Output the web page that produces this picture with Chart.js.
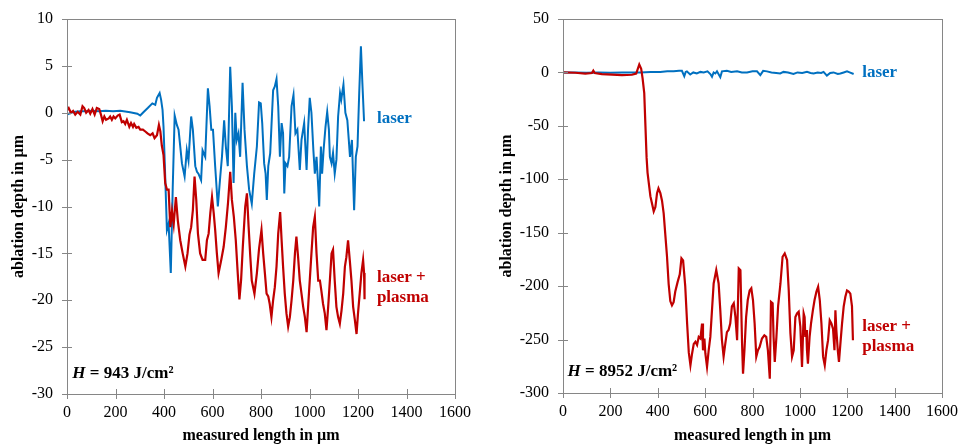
<!DOCTYPE html>
<html lang="en">
<head>
  <meta charset="UTF-8">
  <title>ablation depth profiles</title>
  <script src="https://cdn.jsdelivr.net/npm/chart.js"></script>
  <style>
    body { margin: 0; background: #fff; }
    .panel { position: absolute; top: 0; width: 480px; height: 445px; }
    #p1 { left: 0; }
    #p2 { left: 480px; }
  </style>
</head>
<body>
  <div class="panel" id="p1"><canvas id="c1" width="480" height="445"></canvas></div>
  <div class="panel" id="p2"><canvas id="c2" width="480" height="445"></canvas></div>
  <script>
    // --- data (x in µm, depth in µm) ---
    // H = 943 J/cm², laser only
    const laserX943 = [0, 16, 34, 55, 80, 105, 130, 160, 190, 220, 260, 290, 302, 313, 333, 352, 364, 371, 382, 388, 394, 398, 404, 412, 419, 428, 436, 444, 453, 460, 474, 485, 494, 501, 512, 519, 529, 536, 542, 553, 559, 570, 581, 588, 595, 602, 611, 622, 632, 639, 648, 655, 663, 673, 680, 687, 694, 700, 707, 714, 724, 732, 742, 751, 762, 772, 783, 792, 799, 805, 813, 819, 824, 830, 838, 843, 850, 857, 864, 871, 878, 885, 891, 896, 901, 909, 916, 926, 934, 942, 950, 960, 967, 978, 988, 994, 1001, 1008, 1016, 1022, 1029, 1036, 1040, 1047, 1052, 1058, 1066, 1073, 1080, 1084, 1091, 1097, 1104, 1111, 1118, 1126, 1131, 1140, 1148, 1156, 1162, 1167, 1175, 1184, 1191, 1198, 1205, 1212, 1218, 1225];
    const laserY943 = [-0.2, 0, 0.1, 0.15, 0.15, 0.2, 0.15, 0.2, 0.15, 0.2, 0.05, -0.1, -0.3, 0, 0.5, 1.0, 0.85, 1.6, 2.1, 1.4, 0.3, -1.5, -6, -12.5, -11.8, -17.1, -8, -0.3, -1.3, -1.8, -5.4, -6.8, -4.0, -5.1, -0.4, -1.8, -5.7, -6.3, -6.5, -7.2, -4.0, -4.7, 2.6, 0.7, -1.8, -1.8, -5.7, -10.0, -6.8, -4.7, -0.8, -3.6, -5.7, 4.9, 0.7, -7.5, 0, -2.9, -2.2, -4.7, 3.2, -1.8, -5.7, -8.2, -9.7, -6.5, -3.6, 1.1, 1.0, -1.1, -5.4, -6.5, -9.3, -5.7, -4.3, -1.5, 2.4, 2.8, 3.6, 0.7, -4.7, -1.1, -2.2, -8.6, -5.4, -5.7, -4.7, 0.7, 1.9, -2.2, -1.8, -6.1, -2.9, -1.1, -6.1, -1.8, 1.6, 0, -4.0, -6.5, -4.7, -7.9, -10.0, -3.6, -6.5, -4.0, -1.5, 0.1, -1.8, -4.7, -5.4, -4.3, -6.5, -5.0, -0.4, 2.1, 1.4, 3.0, 0, -0.8, -2.9, -4.7, -2.9, -10.4, -4.7, -3.6, 2.1, 7.1, 3.2, -0.9];
    // H = 943 J/cm², laser + plasma
    const plasmaX943 = [0, 7, 16, 25, 34, 44, 55, 64, 71, 79, 89, 96, 105, 114, 123, 133, 140, 147, 154, 161, 172, 178, 185, 192, 199, 209, 217, 226, 233, 240, 247, 257, 264, 272, 277, 286, 295, 302, 313, 323, 332, 343, 353, 361, 371, 379, 385, 391, 398, 405, 412, 419, 426, 433, 440, 449, 457, 467, 477, 488, 497, 505, 512, 519, 526, 533, 540, 549, 559, 570, 577, 584, 591, 598, 605, 611, 618, 625, 636, 646, 655, 664, 673, 680, 688, 696, 704, 711, 718, 725, 735, 742, 749, 756, 762, 773, 783, 792, 802, 809, 816, 823, 830, 836, 843, 850, 857, 864, 871, 879, 885, 891, 898, 905, 912, 919, 926, 933, 940, 946, 953, 960, 967, 974, 981, 988, 995, 1001, 1008, 1015, 1022, 1029, 1036, 1043, 1049, 1056, 1063, 1070, 1077, 1084, 1091, 1097, 1104, 1111, 1118, 1125, 1132, 1139, 1146, 1152, 1159, 1166, 1173, 1180, 1187, 1194, 1200, 1207, 1214, 1221, 1225, 1227];
    const plasmaY943 = [0.3, 0.5, 0, 0.2, -0.2, 0.1, -0.2, 0.7, 0.5, 0, 0.3, -0.1, 0.4, -0.2, 0.5, 0.4, -0.2, -0.9, -0.4, -0.75, -0.6, -0.4, -0.75, -0.4, -0.6, -0.3, -0.2, -1.0, -0.9, -1.2, -0.75, -1.5, -1.1, -1.5, -1.2, -1.6, -1.5, -1.8, -1.8, -2.0, -2.2, -2.4, -2.2, -2.7, -2.4, -1.3, -2.0, -3.5, -4.5, -7.5, -8.2, -8.2, -12.2, -10.5, -11.9, -9.0, -11.5, -13.6, -15.0, -16.4, -15.0, -13.0, -12.2, -10.4, -6.8, -9.3, -12.9, -15.0, -15.7, -15.7, -13.6, -12.9, -10.7, -9.0, -10.7, -12.5, -15.0, -17.1, -15.7, -14.3, -12.2, -9.6, -6.3, -9.3, -11.1, -13.6, -17.1, -19.9, -17.8, -14.3, -10.0, -8.6, -12.2, -15.4, -17.9, -19.3, -17.1, -14.5, -12.5, -15.0, -17.1, -19.3, -19.6, -20.4, -21.8, -20.0, -18.6, -16.4, -12.9, -10.6, -13.6, -16.4, -19.3, -21.4, -22.8, -21.8, -20.0, -17.9, -15.0, -13.2, -15.4, -17.9, -19.3, -20.7, -21.8, -23.4, -20.4, -17.9, -15.0, -12.2, -11.1, -15.0, -17.9, -17.9, -19.0, -20.4, -21.4, -23.2, -20.7, -17.9, -15.0, -14.6, -17.9, -20.7, -21.8, -22.5, -21.1, -19.3, -16.4, -15.4, -13.6, -15.7, -17.9, -20.7, -22.1, -23.6, -21.4, -19.3, -17.1, -15.7, -17.1, -19.9];

    // H = 8952 J/cm², laser only
    const laserX8952 = [0, 50, 100, 150, 200, 250, 300, 326, 370, 411, 440, 467, 490, 502, 512, 518, 523, 537, 550, 565, 580, 594, 610, 622, 629, 636, 643, 650, 664, 671, 692, 710, 735, 755, 777, 800, 819, 833, 845, 861, 880, 900, 917, 931, 950, 973, 990, 1010, 1030, 1045, 1058, 1075, 1090, 1100, 1114, 1128, 1142, 1160, 1171, 1185, 1199, 1210, 1227];
    const laserY8952 = [0, 0, -0.3, 0, -0.3, 0, 0, 0, 0.3, 0.5, 1.2, 1, 1.5, 1.5, -3.5, 0.5, 1, -2, 0, -1, 0.5, 0, 1, -1.5, -4, 0, -1, 1, -4.5, 1, 1.5, 0.5, 1, 0, 0, 1, 1, -2.5, 1.5, 1, 0, -0.5, -1, 0.5, 0, -1.5, 0, -0.5, 0.5, -0.5, -1, 0, -0.5, 0.5, -3, -0.5, 0, -1.5, -1, 0, 1, 0, -1.5];
    // H = 8952 J/cm², laser + plasma
    const plasmaX8952 = [0, 52, 94, 122, 128, 134, 164, 207, 249, 291, 309, 322, 330, 336, 343, 348, 353, 357, 363, 369, 376, 383, 390, 397, 403, 411, 418, 425, 432, 439, 446, 453, 460, 467, 474, 484, 493, 500, 507, 516, 524, 531, 538, 545, 552, 559, 566, 573, 580, 587, 591, 597, 601, 608, 615, 622, 629, 636, 647, 657, 664, 671, 678, 685, 692, 699, 706, 713, 721, 728, 735, 742, 749, 756, 760, 766, 773, 780, 788, 795, 802, 809, 816, 823, 830, 840, 850, 858, 865, 873, 878, 885, 889, 894, 901, 908, 918, 927, 936, 946, 953, 960, 967, 974, 981, 988, 995, 1002, 1009, 1016, 1020, 1023, 1027, 1030, 1034, 1041, 1047, 1055, 1062, 1070, 1077, 1084, 1091, 1098, 1105, 1112, 1119, 1126, 1133, 1140, 1146, 1150, 1154, 1160, 1165, 1171, 1178, 1185, 1192, 1199, 1206, 1213, 1220, 1224];
    const plasmaY8952 = [0, -0.3, -1.2, -0.6, 1.6, -0.6, -1.5, -2.0, -2.5, -2.2, -1.0, 7.5, 3.5, -5.6, -19.4, -50, -80, -94, -105, -116, -123, -130, -126, -113, -108.5, -113, -120, -132, -152, -172, -198, -214, -218, -215, -205, -196, -189, -174, -176, -200, -235, -262, -274, -263, -254, -252, -255, -247.5, -249, -235, -260, -249, -263, -275.6, -260, -247.5, -222.5, -197.5, -185, -197.5, -222.5, -250.6, -266, -254, -243, -241, -235, -219, -216, -229, -250.6, -183.4, -185, -254, -282, -260, -229, -213, -204, -202, -213, -235, -266, -260, -257, -249, -246, -247.5, -260, -286.6, -214.7, -216, -247.5, -271, -247.5, -219, -197.5, -172.5, -169.4, -175.6, -204, -244, -266, -260, -229, -225.6, -224, -238, -275.6, -225.6, -229, -247.5, -241, -260, -272.5, -247.5, -235, -222.5, -213, -205, -200.6, -213, -235, -266, -274, -260, -250.6, -232, -235, -240, -260, -222.5, -241, -260, -271, -254, -235, -219, -210, -204, -205, -207, -219, -250.6];

    const xTicks = [0, 200, 400, 600, 800, 1000, 1200, 1400, 1600];
    const fluences = ['943', '8952'];
    const seriesNames = ['laser', 'laser + plasma'];

    const BLUE = '#0070c0';
    const RED = '#c00000';
    const AXIS = '#868686';
    const SERIF = '"Liberation Serif", "Times New Roman", serif';

    function pts(xs, ys) { return xs.map((x, i) => ({x: x, y: ys[i]})); }

    // frame, crossing tick marks and text notes
    const framePlugin = {
      id: 'frame',
      afterDraw(chart, args, opts) {
        const {ctx, chartArea: a, scales: {x, y}} = chart;
        ctx.save();
        ctx.strokeStyle = AXIS;
        ctx.lineWidth = 1;
        ctx.strokeRect(Math.round(a.left) + 0.5, Math.round(a.top) + 0.5,
          Math.round(a.right - a.left), Math.round(a.bottom - a.top));
        ctx.beginPath();
        x.ticks.forEach((t, i) => {
          const px = Math.round(x.getPixelForTick(i)) + 0.5;
          ctx.moveTo(px, a.bottom - 5); ctx.lineTo(px, a.bottom + 5);
        });
        y.ticks.forEach((t, i) => {
          const py = Math.round(y.getPixelForTick(i)) + 0.5;
          ctx.moveTo(a.left - 5, py); ctx.lineTo(a.left + 5, py);
        });
        ctx.stroke();

        ctx.textBaseline = 'middle';
        ctx.textAlign = 'left';
        ctx.font = 'bold 17px ' + SERIF;
        opts.notes.forEach(n => {
          ctx.fillStyle = n.color;
          ctx.fillText(n.text, x.getPixelForValue(n.x), y.getPixelForValue(n.y));
        });
        // fluence label
        const hx = x.getPixelForValue(opts.h.x), hy = y.getPixelForValue(opts.h.y);
        ctx.fillStyle = '#000';
        ctx.font = 'italic bold 17px ' + SERIF;
        ctx.fillText('H', hx, hy);
        const w = ctx.measureText('H').width;
        ctx.font = 'bold 17px ' + SERIF;
        ctx.fillText(' = ' + opts.h.text + ' J/cm²', hx + w, hy);
        ctx.restore();
      }
    };

    function makeChart(id, laser, plasma, yMin, yMax, yStep, box, notes, h) {
      return new Chart(document.getElementById(id), {
        type: 'line',
        data: {
          datasets: [
            { label: seriesNames[1], data: plasma, borderColor: RED, borderWidth: 2.2, pointRadius: 0, tension: 0 },
            { label: seriesNames[0], data: laser, borderColor: BLUE, borderWidth: 2, pointRadius: 0, tension: 0 }
          ]
        },
        options: {
          responsive: false,
          animation: false,
          layout: { padding: { top: box.top, right: box.right, left: 0, bottom: 0 } },
          plugins: {
            legend: { display: false },
            tooltip: { enabled: false },
            frame: { notes: notes, h: h }
          },
          scales: {
            x: {
              type: 'linear', min: 0, max: 1600,
              afterBuildTicks: s => { s.ticks = xTicks.map(v => ({value: v})); },
              afterFit: s => { s.height = box.xh; s.paddingLeft = 0; s.paddingRight = 0; },
              grid: { display: false, drawTicks: false }, border: { display: false },
              ticks: { color: '#000', padding: 9, maxRotation: 0, callback: v => String(v),
                       font: { family: SERIF, size: 16 } },
              title: { display: true, text: 'measured length in µm', color: '#000', padding: { top: 0, bottom: 0 },
                       font: { family: SERIF, size: 16, weight: 'bold' } }
            },
            y: {
              min: yMin, max: yMax,
              ticks: { stepSize: yStep, color: '#000', padding: 14, callback: v => String(v),
                       font: { family: SERIF, size: 16 } },
              afterFit: s => { s.width = box.yw; s.paddingTop = 0; s.paddingBottom = 0; },
              grid: { display: false, drawTicks: false }, border: { display: false },
              title: { display: true, text: 'ablation depth in µm', color: '#000', padding: { top: box.tp, bottom: 0 },
                       font: { family: SERIF, size: 16, weight: 'bold' } }
            }
          }
        },
        plugins: [framePlugin]
      });
    }

    makeChart('c1', pts(laserX943, laserY943), pts(plasmaX943, plasmaY943), -30, 10, 5,
      { top: 19, right: 25, xh: 51, yw: 67, tp: 9 },
      [ { text: seriesNames[0], x: 1278, y: -0.6, color: BLUE },
        { text: 'laser +', x: 1278, y: -17.6, color: RED },
        { text: 'plasma', x: 1278, y: -19.7, color: RED } ],
      { text: fluences[0], x: 22, y: -27.8 });

    makeChart('c2', pts(laserX8952, laserY8952), pts(plasmaX8952, plasmaY8952), -300, 50, 50,
      { top: 19, right: 18, xh: 52, yw: 83, tp: 17 },
      [ { text: seriesNames[0], x: 1263, y: -0.4, color: BLUE },
        { text: 'laser +', x: 1263, y: -238, color: RED },
        { text: 'plasma', x: 1263, y: -257, color: RED } ],
      { text: fluences[1], x: 19, y: -279.6 });
  </script>
</body>
</html>
